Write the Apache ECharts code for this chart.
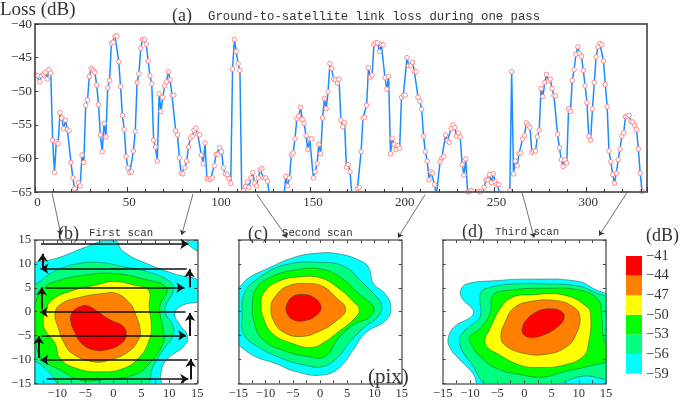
<!DOCTYPE html>
<html>
<head>
<meta charset="utf-8">
<style>
html,body{margin:0;padding:0;background:#fff;}
#main{width:681px;height:420px;}
</style>
<script src="https://cdn.jsdelivr.net/npm/echarts@6/dist/echarts.min.js"></script>
</head>
<body>
<div id="main"></div>
<script>
// link loss per sample, dB (values under -65 run off the plot)
var lossDb = [
	-47.6,-47.7,-48.6,-47.7,-47.5,-47.2,-48.2,-46.8,-47.3,-57.3,-62.1,-57.5,-57.8,-53.2,-54.0,-55.6,-54.3,-55.7,-55.9,-60.6,
	-62.9,-64.5,-65.1,-63.6,-64.1,-59.5,-60.6,-52.1,-51.3,-47.8,-46.6,-46.9,-47.2,-49.1,-52.0,-56.5,-59.0,-54.8,-56.8,-49.5,
	-48.4,-42.9,-42.7,-41.8,-41.8,-45.6,-49.3,-53.6,-55.7,-59.7,-61.4,-62.1,-62.0,-58.9,-56.0,-48.7,-47.4,-43.6,-42.3,-42.3,
	-43.0,-45.5,-47.7,-48.9,-57.3,-58.3,-60.4,-50.4,-53.0,-50.9,-49.2,-48.6,-47.1,-48.3,-50.6,-50.6,-55.9,-56.5,-59.9,-62.2,
	-62.3,-61.4,-60.4,-58.3,-57.0,-56.7,-55.8,-55.5,-56.4,-56.5,-59.5,-60.8,-57.7,-63.0,-63.1,-63.1,-62.9,-61.1,-59.4,-59.4,
	-58.4,-59.0,-61.4,-62.3,-62.4,-63.0,-63.7,-46.7,-42.3,-44.1,-45.9,-46.9,-65.5,-64.8,-64.2,-63.5,-64.3,-62.9,-62.1,-63.7,
	-64.1,-62.9,-61.7,-61.5,-62.9,-62.9,-63.4,-65.3,-67,-68,-68,-67.5,-67,-66.5,-66,-65.5,-62.7,-64.1,-62.9,-59.5,
	-59.2,-57.1,-54.1,-53.7,-52.4,-54.2,-54.8,-56.6,-58.7,-57.1,-57.1,-62.9,-62.0,-60.8,-57.9,-59.3,-54.0,-51.1,-52.6,-50.1,
	-45.9,-46.6,-48.2,-48.3,-48.8,-48.2,-54.3,-55.3,-54.7,-61.3,-60.9,-62.0,-65.5,-67,-65.5,-64.5,-64.3,-59.0,-54.0,-53.9,
	-52.1,-46.5,-47.9,-47.6,-43.0,-42.8,-42.8,-44.1,-43.0,-43.1,-48.0,-49.7,-47.8,-59.3,-57.0,-57.9,-58.7,-58.1,-58.5,-50.9,
	-50.6,-50.6,-45.0,-46.2,-46.2,-45.7,-47.1,-47.1,-50.9,-51.5,-52.7,-56.7,-59.0,-60.4,-63.2,-62.0,-62.2,-63.9,-65.5,-65.5,
	-60.5,-59.9,-59.7,-56.5,-57.4,-57.6,-55.6,-55.0,-55.4,-56.7,-56.2,-56.8,-60.9,-62.5,-60.1,-65.0,-64.9,-64.8,-65.5,-65.5,
	-65.5,-64.9,-65.0,-65.5,-64.3,-63.2,-63.2,-62.4,-63.6,-62.3,-63.5,-63.9,-63.9,-65.5,-67,-67,-66,-65.5,-64.8,-47.1,-62.3,
	-60.4,-61.1,-59.3,-59.2,-57.1,-56.6,-54.7,-55.1,-55.4,-59.1,-58.9,-58.9,-56.8,-55.8,-49.6,-50.8,-48.7,-47.5,-48.5,-48.2,
	-49.6,-50.7,-50.7,-56.4,-58.4,-60.2,-61.2,-60.2,-60.7,-52.6,-53.0,-48.4,-46.8,-44.5,-43.4,-44.4,-44.8,-46.9,-49.2,-51.7,
	-56.7,-57.3,-52.6,-48.7,-44.9,-43.4,-42.9,-43.1,-45.5,-49.0,-52.3,-58.9,-60.5,-62.4,-63.7,-62.2,-60.2,-58.6,-56.7,-56.2,
	-53.8,-53.7,-53.6,-54.5,-54.6,-55.1,-55.7,-58.6,-62.2,-64.9
];
// first sample sits a little right of the axis
var firstSample = 0.6;

// contour colours, outermost first
var levelColors = ['#00ffff','#00ff80','#00ff00','#ffff00','#ff8000','#ff0000'];

// first scan contours, [pix, pix]
var firstScan59 = [[-16,10],[-14.1,10.3],[-10.1,11.2],[-5.4,13.3],[-1.8,14.9],[0,15.4],[.5,15],[1.8,12.6],[6.5,9.8],[10.7,8],[16,6],[16,2.6],[12.5,1.4],[11,-.3],[11.9,-2.8],[13.2,-4.9],[12.8,-7],[9.5,-10.1],[8.5,-12.9],[8.2,-17],[-16,-17]];
var firstScanCorner = [[12.8,16],[13,15],[13.8,13.6],[16,12.5],[16,16]];
var firstScan56 = [[-15.5,-10.5],[-15.5,3.5],[-12.8,6.6],[-10.1,8.7],[-6,10.1],[-2.4,10.3],[1.8,9.4],[6,8.4],[10.1,6.3],[10.7,4.5],[9.2,.3],[10.6,-2.8],[10.7,-4.9],[8.9,-8],[7.1,-11.5],[5.7,-15.4],[-8.9,-15.7],[-11.3,-12.9],[-13.7,-10.5]];
var firstScan53 = [[-14.6,-2],[-13.7,2.4],[-12.2,5.2],[-9.5,6.6],[-4.8,7.7],[0,8],[4.8,7],[9.5,4.9],[8.3,1],[8.9,-3.8],[8.9,-6.6],[6.5,-10.8],[3.6,-13.3],[-2.4,-14.3],[-6,-14.3],[-9.5,-12.2],[-12.8,-9.8],[-14.1,-5.2]];
var firstScan50 = [[-12.5,-1.7],[-12.2,-.3],[-11,2.4],[-7.1,4.5],[-3,5.6],[0,6.3],[3.6,5.6],[6.3,4.5],[6.4,1],[6.8,-3.1],[6.5,-5.6],[4.8,-9.4],[1.8,-11.9],[-2.4,-12.6],[-6.5,-11.9],[-9.5,-9.8],[-10.4,-6.6],[-12.2,-3.8]];
var firstScan47 = [[-10.4,-.3],[-9.2,1.7],[-6,3],[-1.8,3.8],[.6,3.8],[3,1.7],[3.9,-.3],[4.8,-3.8],[4.5,-5.9],[2.7,-8.4],[-.6,-10.1],[-3.6,-10.5],[-7.4,-8.7],[-8.9,-6.3],[-9.8,-3.5]];
var firstScan44 = [[-7.4,-.3],[-6,1],[-4.5,1.2],[-2.4,-.3],[-.6,-1.7],[1.8,-3.1],[2.3,-4.9],[1.5,-6.6],[-1.2,-8],[-3.6,-8],[-5.7,-6.6],[-6.8,-4.5],[-7.6,-2.1]];

// second scan contours
var secondScan59 = [[-16,5.5],[-15,5.1],[-13.2,7],[-9.5,9.1],[-5.2,11.2],[-.9,12.2],[3.4,12.1],[7.7,10.5],[9,9.1],[9.8,5.9],[11.9,3.8],[13,1],[12.2,-1.7],[8.3,-4.5],[6.1,-8],[3.4,-11.9],[0,-13.3],[-4.3,-12.6],[-8.3,-10.8],[-11.9,-9.4],[-15,-7],[-16,-6]];
var secondScan56 = [[-13.9,3.8],[-11.3,7],[-6.4,9.8],[.3,10.3],[4.6,9.4],[7.6,6.3],[9.8,3.8],[11.3,1.4],[10.7,-1],[8.3,-3.1],[5.5,-6.3],[3.4,-9.4],[.6,-11.5],[-2.8,-11.2],[-7,-9.8],[-11.9,-7],[-14.1,-4.5],[-14.3,-1]];
var secondScan53 = [[-12.4,1],[-11.9,4.5],[-9.5,7],[-4.6,8.7],[.3,8.9],[4,7],[7,3.8],[9.8,1],[9.2,-1],[6.1,-2.8],[3.4,-5.6],[.9,-9.4],[-2.1,-9.4],[-7,-8],[-10.7,-5.6],[-12.2,-1.7]];
var secondScan50 = [[-10.8,1],[-10.4,3.8],[-7.7,6.3],[-3.4,7.3],[.3,7],[3.4,4.9],[6.1,2.1],[7.2,.3],[6.1,-1.7],[3.4,-4.2],[.9,-6.3],[-1.5,-7.5],[-5.2,-6.6],[-8.8,-4.5],[-10.5,-1]];
var secondScan47 = [[-9,1],[-8,3.5],[-5.8,5.4],[-2.8,5.9],[.3,5.4],[2.8,3.1],[4.7,.5],[2.8,-2.1],[-.3,-4.2],[-3.4,-5.2],[-6.4,-4.5],[-8.3,-2.4]];
var secondScan44 = [[-6.2,1],[-5.2,3],[-3.4,3.6],[-1.2,3],[.2,1],[-.6,-.7],[-2.8,-1.9],[-4.9,-1.7],[-6,-.5]];

// third scan contours
var thirdScan59 = [[-11.7,4.5],[-10.6,5.8],[-5.1,6.5],[1,6.8],[9.6,6.4],[12.6,4.9],[16,2.2],[16,-16],[-8,-16],[-9.4,-13],[-12.1,-9.8],[-13.6,-7.7],[-14,-5.6],[-12.8,-3.1],[-9.7,-1],[-9.4,.3],[-11.2,2.4],[-11.7,3.5]];
var thirdScan56 = [[-11.8,-5.2],[-11.2,-4.2],[-9.7,-2.8],[-8.1,-1],[-8.1,3.8],[-6.9,4.9],[-2,5.8],[4.1,5.8],[9.6,5.4],[12.6,4.2],[16,1.8],[16,-13.3],[10.7,-13.5],[7.2,-14.8],[5.3,-16],[-5.7,-16],[-7.5,-15],[-9.4,-11.5],[-11.5,-8],[-11.9,-6]];
var thirdScan53 = [[-10,-5.2],[-8.1,-3.5],[-6.3,-.3],[-5.7,3.5],[-2.6,4.5],[3.5,4.9],[10.2,4.5],[13.6,2.4],[14.2,-1],[14.8,-6.6],[16,-7],[16,-9.8],[11.5,-11.5],[7.2,-12.6],[3.5,-13.7],[-.2,-13.3],[-5.1,-11.9],[-8.1,-9.4],[-9.7,-7]];
var thirdScan50 = [[-7.2,-5.6],[-6.6,-4.2],[-4.2,1],[-2,3.1],[1,3.5],[7.2,3.5],[11.5,1],[12.2,-1],[11.8,-6.6],[10.8,-9.4],[7.2,-11.2],[2.9,-11.7],[-.8,-11.2],[-5.1,-8.7],[-6.9,-7.3]];
var thirdScan47 = [[-4.3,-4.9],[-3.6,-2.4],[-2,.7],[1,2.1],[5.9,2.3],[9,1],[10.2,-1],[9.6,-4.5],[7.8,-7.3],[4.1,-8.9],[-.2,-8.7],[-3.6,-7]];
var thirdScan44 = [[-.4,-3.5],[.4,-1.7],[2.3,0],[4.7,.6],[6.9,0],[7.3,-1.4],[6.2,-3.1],[3.5,-4.9],[1,-5.4],[-.2,-4.7]];

// scan path over the first panel: [x0,y0,x1,y1]
var scanRows = [[-12.9,14.2,13.4,14.2],[13.1,9,-13,9],[-12.1,5,12.7,5],[12.9,-.1,-13.1,-.1],[-12.9,-5,13,-5],[13.3,-10.1,-13,-10.1],[-11.9,-14.1,13.4,-14.1]];
var scanSteps = [[-12.6,8.9,-12.6,12.1],[13.6,5.1,13.6,8.9],[-12.8,.5,-12.8,5.1],[13.7,-5.1,13.7,-.3],[-13.3,-9.7,-13.3,-5.1],[13.8,-14.2,13.8,-9.9]];

// leader lines from the pass to each scan, in the pass plot's units
var scanLinks = [[9.3,-65.2,14.2,-71.4],[86,-65.3,79.9,-71.4],[120.9,-65.4,137.3,-71.8],[212.4,-65.4,197.7,-71.8],[265.3,-65.1,271.8,-71.8],[322.4,-65.1,307.2,-71.5]];

// colour bar, bottom to top
var barLabels = ['-59','-56','-53','-50','-47','-44','-41'];

var serifFont = '"Liberation Serif"';
var monoFont = '"Liberation Mono"';
var frameColor = '#666';

function minusLabel(v){
	return String(v).replace('-','\u2212');
}

function pairs(list){
	return list.map(function(r){
		return {coords:[[r[0],r[1]],[r[2],r[3]]]};
	});
}

// one pair of axes with a mirror on the far side
function panelAxes(gridIndex,xmin,showY,xLabels){
	var x = {
		type:'value',gridIndex:gridIndex,min:xmin,max:15,z:5,
		splitLine:{show:false},
		axisLine:{onZero:false,lineStyle:{color:frameColor,width:1.5}},
		axisTick:{inside:true,length:3,lineStyle:{color:'#444'},customValues:[-12.5,-10,-7.5,-5,-2.5,0,2.5,5,7.5,10,12.5,15]},
		axisLabel:{color:'#333',fontFamily:serifFont,fontSize:12.5,margin:4,formatter:minusLabel,customValues:xLabels}
	};
	var xTop = {
		type:'value',gridIndex:gridIndex,min:xmin,max:15,position:'top',z:5,
		splitLine:{show:false},axisLabel:{show:false},
		axisLine:{onZero:false,lineStyle:{color:frameColor,width:1.5}},
		axisTick:{inside:true,length:3,lineStyle:{color:'#444'},customValues:[-12.5,-10,-7.5,-5,-2.5,0,2.5,5,7.5,10,12.5]}
	};
	var y = {
		type:'value',gridIndex:gridIndex,min:-15,max:15,interval:5,z:5,
		splitLine:{show:false},
		axisLine:{onZero:false,lineStyle:{color:frameColor,width:1.5}},
		axisTick:{inside:true,length:3,lineStyle:{color:'#444'}},
		axisLabel:{show:showY,color:'#333',fontFamily:serifFont,fontSize:13,margin:3,formatter:minusLabel}
	};
	var yRight = {
		type:'value',gridIndex:gridIndex,min:-15,max:15,interval:5,position:'right',z:5,
		splitLine:{show:false},axisLabel:{show:false},
		axisLine:{onZero:false,lineStyle:{color:frameColor,width:1.5}},
		axisTick:{inside:true,length:3,lineStyle:{color:'#444'}}
	};
	return {x:[x,xTop],y:[y,yRight]};
}

function contourSeries(xIndex,yIndex,rings,colors){
	return {
		type:'custom',xAxisIndex:xIndex,yAxisIndex:yIndex,clip:true,silent:true,z:2,
		data:rings.map(function(r,i){return [i];}),
		renderItem:function(params,api){
			var pts = rings[params.dataIndex].map(function(p){return api.coord(p);});
			return {
				type:'polygon',
				shape:{points:pts,smooth:0.45},
				style:{fill:colors[params.dataIndex],stroke:'#2a4a3a',lineWidth:0.5}
			};
		}
	};
}

function label(text,left,top,size,family){
	return {
		text:text,left:left,top:top,padding:0,
		textStyle:{color:'#333',fontFamily:family,fontSize:size,fontWeight:'normal'}
	};
}

var panelB = panelAxes(1,-14.1,true,[-10,-5,0,5,10,15]);
var panelC = panelAxes(2,-15,false,[-15,-10,-5,0,5,10,15]);
var panelD = panelAxes(3,-15,false,[-15,-10,-5,0,5,10,15]);

var xAxes = [
	{
		type:'value',gridIndex:0,min:0,max:333.3,interval:50,z:5,
		splitLine:{show:false},
		axisLine:{lineStyle:{color:frameColor,width:2}},
		axisTick:{inside:true,length:5,lineStyle:{color:'#333'}},
		minorTick:{show:true,splitNumber:5,length:3,lineStyle:{color:'#333'}},
		axisLabel:{color:'#333',fontFamily:serifFont,fontSize:13,margin:4,padding:[0,0,0,5],showMaxLabel:false,formatter:minusLabel}
	},
	{
		type:'value',gridIndex:0,min:0,max:333.3,position:'top',z:5,
		splitLine:{show:false},axisLabel:{show:false},axisTick:{show:false},
		axisLine:{lineStyle:{color:frameColor,width:2}}
	}
].concat(panelB.x,panelC.x,panelD.x,[
	{type:'value',gridIndex:4,min:0,max:1,show:false}
]);

var yAxes = [
	{
		type:'value',gridIndex:0,min:-65,max:-40,interval:5,z:5,
		splitLine:{show:false},
		axisLine:{onZero:false,lineStyle:{color:frameColor,width:2}},
		axisTick:{inside:true,length:3,lineStyle:{color:'#333'}},
		axisLabel:{color:'#333',fontFamily:serifFont,fontSize:13.5,margin:3,formatter:minusLabel}
	},
	{
		type:'value',gridIndex:0,min:-65,max:-40,interval:5,position:'right',z:5,
		splitLine:{show:false},axisLabel:{show:false},axisTick:{show:false},
		axisLine:{onZero:false,lineStyle:{color:frameColor,width:2}}
	}
].concat(panelB.y,panelC.y,panelD.y,[
	{
		type:'category',gridIndex:4,boundaryGap:false,position:'right',data:barLabels,
		axisLine:{show:false},axisTick:{show:false},
		axisLabel:{color:'#333',fontFamily:serifFont,fontSize:14.5,margin:4,formatter:minusLabel}
	}
]);

var option = {
	animation:false,
	backgroundColor:'#fff',
	title:[
		label('Loss (dB)',0,1,19,serifFont),
		label('(a)',172,7,18,serifFont),
		label('Ground-to-satellite link loss during one pass',208,11,12.3,monoFont),
		label('(b)',58,225,18,serifFont),
		label('First scan',89,228,10.7,monoFont),
		label('(c)',248,225,18,serifFont),
		label('Second scan',282,228,10.7,monoFont),
		label('(d)',462,223,18,serifFont),
		label('Third scan',495,227,10.7,monoFont),
		label('(dB)',646,227,18,serifFont),
		label('(pix)',368,367,21,serifFont)
	],
	grid:[
		{left:35,top:24,width:612,height:168},
		{left:34.3,top:240,width:163,height:143.3},
		{left:238.3,top:240,width:163.4,height:143.3},
		{left:442.7,top:240,width:163.3,height:143.3},
		{left:626,top:256,width:16,height:117.7}
	],
	xAxis:xAxes,
	yAxis:yAxes,
	series:[
		{
			type:'line',xAxisIndex:0,yAxisIndex:0,z:3,
			data:lossDb.map(function(v,i){return [firstSample+i,v];}),
			lineStyle:{color:'#1a8cff',width:1.5},
			symbol:'circle',symbolSize:4.5,showAllSymbol:true,
			itemStyle:{color:'#fff',borderColor:'#ff8a8a',borderWidth:1},
			clip:true
		},
		contourSeries(2,2,[firstScan59,firstScanCorner,firstScan56,firstScan53,firstScan50,firstScan47,firstScan44],
			[levelColors[0],levelColors[0],levelColors[1],levelColors[2],levelColors[3],levelColors[4],levelColors[5]]),
		contourSeries(4,4,[secondScan59,secondScan56,secondScan53,secondScan50,secondScan47,secondScan44],levelColors),
		contourSeries(6,6,[thirdScan59,thirdScan56,thirdScan53,thirdScan50,thirdScan47,thirdScan44],levelColors),
		{
			type:'lines',coordinateSystem:'cartesian2d',xAxisIndex:2,yAxisIndex:2,clip:false,z:6,
			symbol:['none','arrow'],symbolSize:8,
			lineStyle:{color:'#111',width:1.5,opacity:1,curveness:0},
			data:pairs(scanRows)
		},
		{
			type:'lines',coordinateSystem:'cartesian2d',xAxisIndex:2,yAxisIndex:2,clip:false,z:6,
			symbol:['none','arrow'],symbolSize:8,
			lineStyle:{color:'#111',width:2,opacity:1,curveness:0},
			data:pairs(scanSteps)
		},
		{
			type:'lines',coordinateSystem:'cartesian2d',xAxisIndex:0,yAxisIndex:0,clip:false,z:6,
			symbol:['none','arrow'],symbolSize:5,
			lineStyle:{color:'#333',width:0.7,opacity:1,curveness:0},
			data:pairs(scanLinks)
		},
		{
			type:'custom',xAxisIndex:8,yAxisIndex:8,silent:true,
			data:barLabels.slice(1).map(function(l,i){return [i];}),
			renderItem:function(params,api){
				var i = params.dataIndex;
				var a = api.coord([0,i]);
				var b = api.coord([1,i+1]);
				return {
					type:'rect',
					shape:{x:a[0],y:b[1],width:b[0]-a[0],height:a[1]-b[1]},
					style:{fill:levelColors[i]}
				};
			}
		}
	]
};

var chart = echarts.init(document.getElementById('main'),null,{renderer:'canvas'});
chart.setOption(option);
</script>
</body>
</html>
